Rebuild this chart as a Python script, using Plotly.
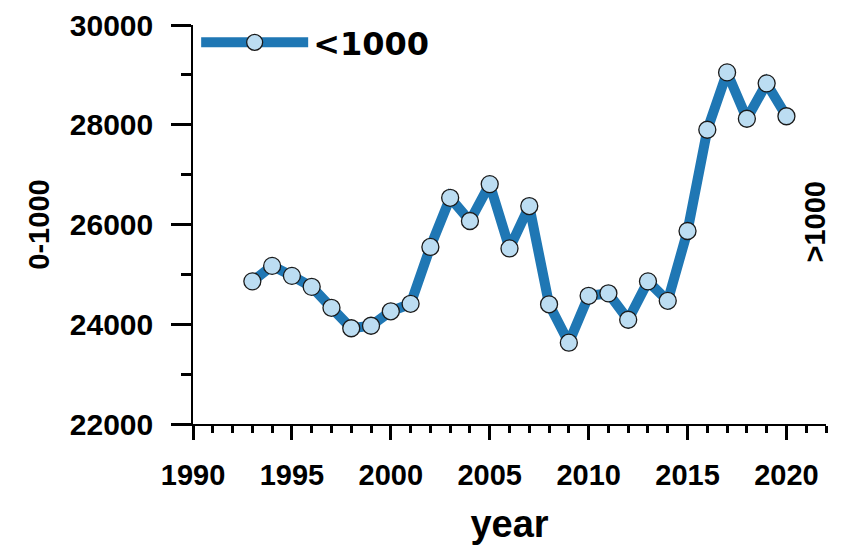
import plotly.graph_objects as go

# Annual totals for the <1000 class
years = [1993, 1994, 1995, 1996, 1997, 1998, 1999, 2000, 2001, 2002,
         2003, 2004, 2005, 2006, 2007, 2008, 2009, 2010, 2011, 2012,
         2013, 2014, 2015, 2016, 2017, 2018, 2019, 2020]
values = [24860, 25170, 24970, 24750, 24330, 23920, 23970, 24260, 24410, 25550,
          26535, 26070, 26810, 25520, 26370, 24400, 23630, 24570, 24620, 24090,
          24860, 24470, 25870, 27900, 29050, 28120, 28830, 28170]

series_name = "<1000"
left_title = "0-1000"
right_title = ">1000"
x_title = "year"

FONT = "Liberation Sans, Arial, sans-serif"
LEGEND_FONT = "DejaVu Sans, sans-serif"

fig = go.Figure()
fig.add_trace(go.Scatter(
    x=years, y=values, name=series_name, mode="lines+markers",
    line=dict(color="#1F77B4", width=10),
    marker=dict(size=17, color="#BCDDF2", line=dict(color="#1A1A1A", width=1.3)),
))

axis_common = dict(
    showline=True, linecolor="black", linewidth=1.5,
    ticks="outside", tickcolor="black", tickwidth=3,
    showgrid=False, zeroline=False, automargin=False,
)

fig.update_xaxes(
    range=[1990, 2022], tick0=1990, dtick=5, ticklen=14,
    minor=dict(dtick=1, ticks="outside", ticklen=7, tickwidth=3, tickcolor="black"),
    tickfont=dict(family=FONT, size=29, color="black", weight="bold"),
    title=dict(text=x_title, font=dict(family=FONT, size=38, color="black", weight="bold"), standoff=27),
    ticklabelstandoff=10,
    **axis_common,
)
fig.update_yaxes(
    range=[22000, 30000], tick0=22000, dtick=2000, ticklen=20, tickformat="d",
    minor=dict(dtick=1000, ticks="outside", ticklen=10, tickwidth=3, tickcolor="black"),
    tickfont=dict(family=FONT, size=30, color="black", weight="bold"),
    title=dict(text=left_title, font=dict(family=FONT, size=29, color="black", weight="bold"), standoff=12),
    ticklabelstandoff=12,
    **axis_common,
)

fig.add_annotation(
    text=right_title, textangle=-90, xref="paper", yref="paper",
    x=1.0, y=0.5, xanchor="center", yanchor="middle", xshift=-12, yshift=2,
    showarrow=False, font=dict(family=FONT, size=29, color="black", weight="bold"),
)

fig.update_layout(
    width=849, height=545,
    margin=dict(l=193, r=23, t=25, b=121),
    paper_bgcolor="white", plot_bgcolor="white",
    showlegend=True,
    legend=dict(
        x=0.005, y=1.025, xanchor="left", yanchor="top",
        bgcolor="rgba(0,0,0,0)", borderwidth=0, itemwidth=107,
        font=dict(family=LEGEND_FONT, size=32, color="black", weight="bold"),
    ),
)

fig.write_html("out.html")
